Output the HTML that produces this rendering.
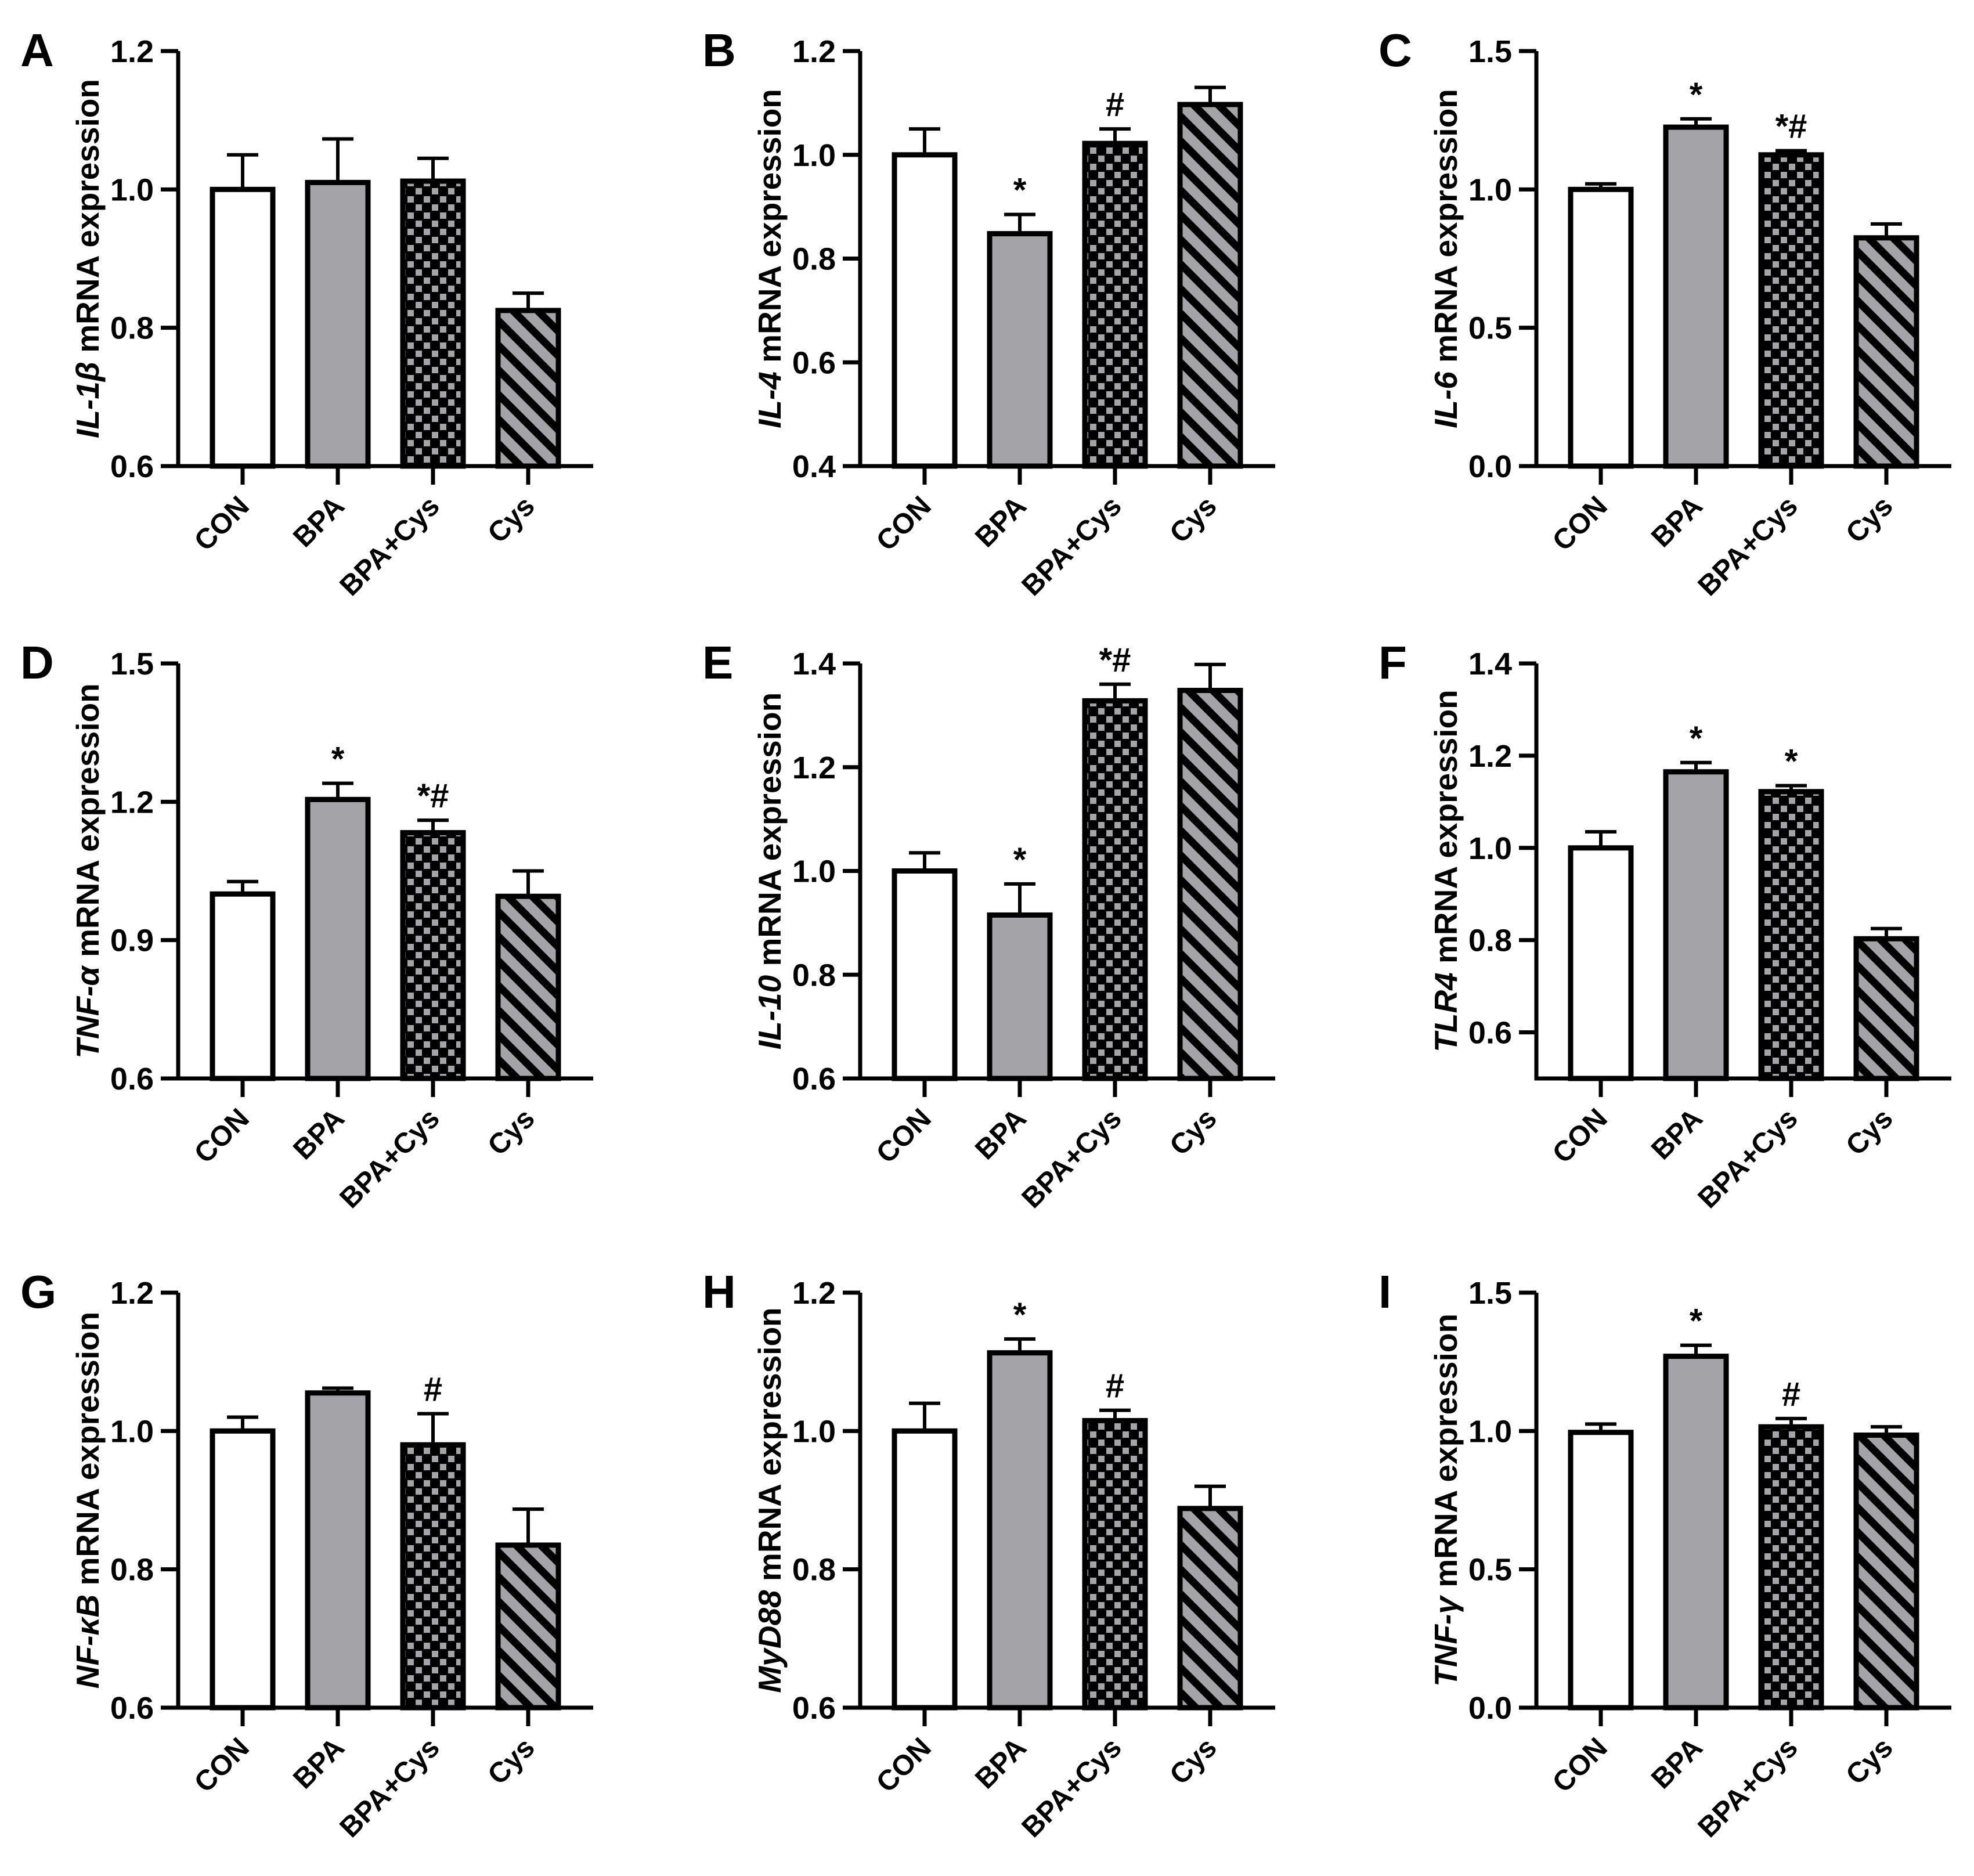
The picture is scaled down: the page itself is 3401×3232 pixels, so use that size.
<!DOCTYPE html>
<html><head><meta charset="utf-8">
<style>
html,body{margin:0;padding:0;background:#fff;}
svg{display:block;}
text{font-family:"Liberation Sans",Arial,sans-serif;font-weight:bold;fill:#000;}
</style></head>
<body>
<svg id="fig" xmlns="http://www.w3.org/2000/svg" width="3401" height="3232" viewBox="0 0 3401 3232">
<defs>
<pattern id="checker" patternUnits="userSpaceOnUse" width="28" height="28">
<rect width="28" height="28" fill="#000"/>
<rect x="2" y="2" width="11" height="11" fill="#a3a3a8"/>
<rect x="16" y="16" width="11" height="11" fill="#a3a3a8"/>
</pattern>
<pattern id="hatch" patternUnits="userSpaceOnUse" width="30" height="30" patternTransform="rotate(-45)">
<rect width="30" height="30" fill="#a3a3a8"/>
<rect x="0" y="0" width="13" height="30" fill="#000"/>
</pattern>
</defs>
</svg>
<script>
const categories = ["CON","BPA","BPA+Cys","Cys"];
const panelLetters = ["A","B","C","D","E","F","G","H","I"];
const genes = ["IL-1β","IL-4","IL-6","TNF-α","IL-10","TLR4","NF-κB","MyD88","TNF-γ"];
const meansA = [1.0, 1.01, 1.012, 0.825];
const errA   = [1.05, 1.073, 1.045, 0.85];
const meansB = [1.0, 0.848, 1.022, 1.097];
const errB   = [1.05, 0.885, 1.05, 1.13];
const meansC = [1.0, 1.225, 1.125, 0.825];
const errC   = [1.02, 1.255, 1.14, 0.875];
const meansD = [1.0, 1.205, 1.133, 0.995];
const errD   = [1.027, 1.24, 1.16, 1.05];
const meansE = [1.0, 0.915, 1.328, 1.348];
const errE   = [1.035, 0.975, 1.36, 1.398];
const meansF = [1.0, 1.165, 1.122, 0.803];
const errF   = [1.035, 1.185, 1.135, 0.825];
const meansG = [1.0, 1.055, 0.98, 0.835];
const errG   = [1.02, 1.062, 1.025, 0.887];
const meansH = [1.0, 1.113, 1.015, 0.888];
const errH   = [1.04, 1.133, 1.03, 0.92];
const meansI = [0.995, 1.27, 1.015, 0.985];
const errI   = [1.025, 1.31, 1.045, 1.015];
const sigA = ["","","",""];
const sigB = ["","*","#",""];
const sigC = ["","*","*#",""];
const sigD = ["","*","*#",""];
const sigE = ["","*","*#",""];
const sigF = ["","*","*",""];
const sigG = ["","","#",""];
const sigH = ["","*","#",""];
const sigI = ["","*","#",""];
const yMin = [0.6, 0.4, 0.0, 0.6, 0.6, 0.5, 0.6, 0.6, 0.0];
const yMax = [1.2, 1.2, 1.5, 1.5, 1.4, 1.4, 1.2, 1.2, 1.5];
const ticksA = ["0.6","0.8","1.0","1.2"];
const ticksB = ["0.4","0.6","0.8","1.0","1.2"];
const ticksC = ["0.0","0.5","1.0","1.5"];
const ticksD = ["0.6","0.9","1.2","1.5"];
const ticksE = ["0.6","0.8","1.0","1.2","1.4"];
const ticksF = ["0.6","0.8","1.0","1.2","1.4"];
const ticksG = ["0.6","0.8","1.0","1.2"];
const ticksH = ["0.6","0.8","1.0","1.2"];
const ticksI = ["0.0","0.5","1.0","1.5"];

const allMeans=[meansA,meansB,meansC,meansD,meansE,meansF,meansG,meansH,meansI];
const allErr=[errA,errB,errC,errD,errE,errF,errG,errH,errI];
const allSig=[sigA,sigB,sigC,sigD,sigE,sigF,sigG,sigH,sigI];
const allTicks=[ticksA,ticksB,ticksC,ticksD,ticksE,ticksF,ticksG,ticksH,ticksI];
const fills=["#ffffff","#a3a3a8","url(#checker)","url(#hatch)"];

const NS="http://www.w3.org/2000/svg";
const svg=document.getElementById('fig');
function mk(tag,attrs,parent,txt){const e=document.createElementNS(NS,tag);for(const k in attrs)e.setAttribute(k,attrs[k]);if(txt!==undefined)e.textContent=txt;parent.appendChild(e);return e;}

const colX=[307,1482,2647];
const rowY=[88,1143,2227];
const PH=715, PW=715;

for(let p=0;p<9;p++){
  const x0=colX[p%3], top=rowY[Math.floor(p/3)], bottom=top+PH;
  const lo=yMin[p], hi=yMax[p];
  const ys=v=>top+(hi-v)/(hi-lo)*PH;
  const xc=i=>x0+111+164*i;
  const g=mk('g',{},svg);
  
  

  const L=mk('text',{x:x0-272,y:top+26,'font-size':80},g,panelLetters[p]);
  
  

  const t=mk('text',{transform:`translate(${x0-137},${top+PH/2}) rotate(-90)`,'text-anchor':'middle','font-size':55},g);
  
  
  mk('tspan',{'font-style':'italic'},t,genes[p]);
  mk('tspan',{},t,' mRNA expression');

  allTicks[p].forEach(lab=>{
    const y=ys(parseFloat(lab));
    const tk=mk('line',{x1:x0-30,x2:x0,y1:y,y2:y,stroke:'#000','stroke-width':7},g);
    
    
    const tl=mk('text',{x:x0-42,y:y+19,'text-anchor':'end','font-size':54},g,lab);
    
    
  });

  const m=allMeans[p], e=allErr[p], s=allSig[p];
  categories.forEach((c,i)=>{
    const cx=xc(i), yv=ys(m[i]), ye=ys(e[i]);
    const el=mk('line',{x1:cx,x2:cx,y1:ye,y2:yv,stroke:'#000','stroke-width':6},g);
    
    
    const cap=mk('line',{x1:cx-27,x2:cx+27,y1:ye,y2:ye,stroke:'#000','stroke-width':6},g);
    
    
    const r=mk('rect',{x:cx-52,y:yv,width:104,height:bottom-yv,fill:fills[i],stroke:'#000','stroke-width':9},g);
    
    
    if(s[i]){
      const st=mk('text',{x:cx,y:ye-22,'text-anchor':'middle','font-size':58},g,s[i]);
      
      
    }
    const xt=mk('line',{x1:cx,x2:cx,y1:bottom,y2:bottom+32,stroke:'#000','stroke-width':7},g);
    
    
    const xl=mk('text',{transform:`translate(${cx+14},${bottom+72}) rotate(-45)`,'text-anchor':'end','font-size':49},g,c);
    
    
  });

  const ax=mk('path',{d:`M${x0},${top} L${x0},${bottom} L${x0+PW},${bottom}`,fill:'none',stroke:'#000','stroke-width':7},g);
  
  
}
</script>
</body></html>
